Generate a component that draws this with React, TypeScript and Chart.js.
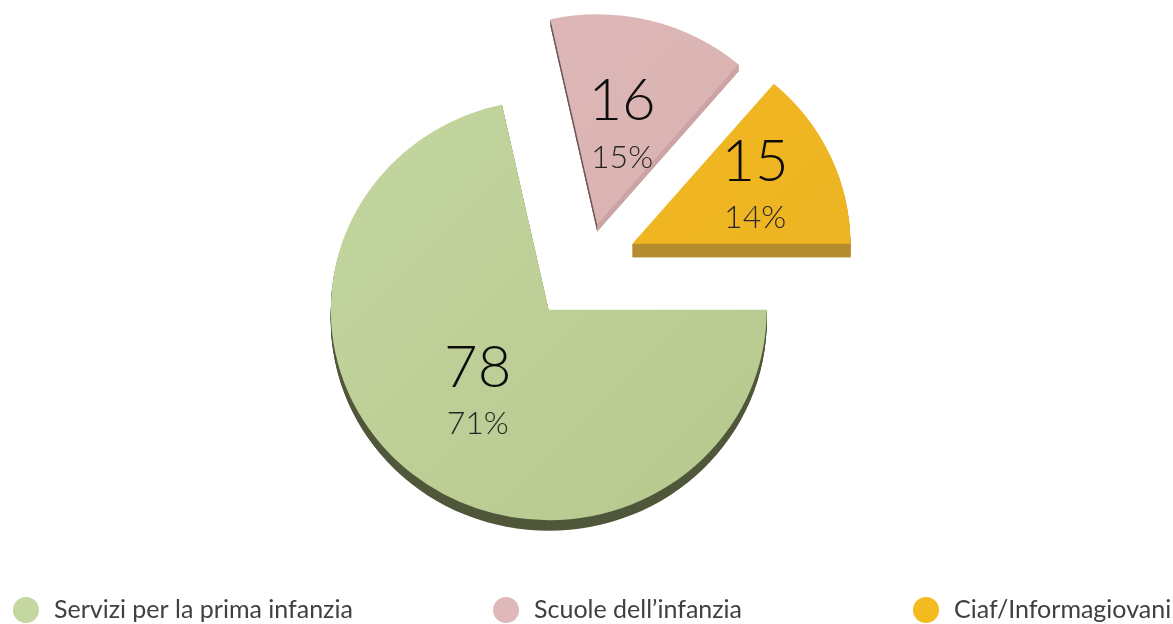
import React, { useEffect, useRef } from "react";
import { Chart, registerables } from "chart.js";

Chart.register(...registerables);

// ---- data ----
const categories = ["Servizi per la prima infanzia", "Scuole dell\u2019infanzia", "Ciaf/Informagiovani"];
const values = [78, 16, 15];
const percentLabels = ["71%", "15%", "14%"];

// ---- style ----
const faceLight = ["#c4d7a1", "#dfb9b9", "#f3bb1d"];
const faceDark = ["#b7c88d", "#d6adad", "#ecb225"];
const sideArc = ["#50573a", "#a88888", "#b89030"];
const sideStart = ["#50573a", "#6f5656", "#b38d2e"];
const sideEnd = ["#8a9568", "#cda4a4", "#b48d2f"];
const depth = [11, 7, 14];
const explode = [61, 42, 50];
const labelRadius = [0.52, 0.47, 0.62];
const legendX = [0.0217, 0.431, 0.789];
const SQUASH = 0.965;

const explodePlugin = {
  id: "explodeSlices",
  afterDatasetsUpdate(chart: any) {
    const meta = chart.getDatasetMeta(0);
    meta.data.forEach((arc: any, i: number) => {
      const mid = (arc.startAngle + arc.endAngle) / 2;
      arc.x += Math.cos(mid) * explode[i];
      arc.y += Math.sin(mid) * explode[i];
    });
  },
};

function centerY(chart: any) {
  const a = chart.chartArea;
  return (a.top + a.bottom) / 2;
}

const pie3dPlugin = {
  id: "pie3d",
  beforeDatasetsDraw(chart: any) {
    const ctx = chart.ctx;
    const y0 = centerY(chart);
    ctx.save();
    ctx.translate(0, y0);
    ctx.scale(1, SQUASH);
    ctx.translate(0, -y0);
    const meta = chart.getDatasetMeta(0);
    meta.data.forEach((arc: any, i: number) => {
      const { x, y, startAngle: a0, endAngle: a1, outerRadius: r } = arc;
      const d = depth[i];
      ctx.fillStyle = sideArc[i];
      for (let k = d; k >= 1; k--) {
        ctx.beginPath();
        ctx.moveTo(x, y + k);
        ctx.arc(x, y + k, r, a0, a1);
        ctx.closePath();
        ctx.fill();
      }
      const edge = (ang: number, n: number, color: string) => {
        if (Math.sin(n) <= 0.01) return;
        const px = x + Math.cos(ang) * r;
        const py = y + Math.sin(ang) * r;
        ctx.fillStyle = color;
        ctx.beginPath();
        ctx.moveTo(x, y);
        ctx.lineTo(px, py);
        ctx.lineTo(px, py + d);
        ctx.lineTo(x, y + d);
        ctx.closePath();
        ctx.fill();
      };
      edge(a0, a0 - Math.PI / 2, sideStart[i]);
      edge(a1, a1 + Math.PI / 2, sideEnd[i]);
    });
  },
  afterDatasetsDraw(chart: any) {
    const ctx = chart.ctx;
    ctx.restore();
    const y0 = centerY(chart);
    const meta = chart.getDatasetMeta(0);
    meta.data.forEach((arc: any, i: number) => {
      const mid = (arc.startAngle + arc.endAngle) / 2;
      const r = arc.outerRadius * labelRadius[i];
      const cx = arc.x + Math.cos(mid) * r;
      const cy = y0 + SQUASH * (arc.y + Math.sin(mid) * r - y0);
      ctx.save();
      ctx.textAlign = "center";
      ctx.textBaseline = "middle";
      ctx.fillStyle = "#0d0d0d";
      ctx.font = '300 58px "Lato", "Inter", sans-serif';
      ctx.fillText(String(values[i]), cx, cy - 27);
      ctx.fillStyle = "#262626";
      ctx.font = '300 32px "Lato", "Inter", sans-serif';
      ctx.fillText(percentLabels[i], cx, cy + 29);
      ctx.restore();
    });
  },
};

const legendPlugin = {
  id: "bottomLegend",
  afterDraw(chart: any) {
    const ctx = chart.ctx;
    const w = chart.width;
    const yc = chart.height - 14;
    categories.forEach((label, i) => {
      const cx = legendX[i] * w + 0.5;
      ctx.save();
      ctx.fillStyle = faceLight[i];
      ctx.beginPath();
      ctx.arc(cx, yc, 13, 0, Math.PI * 2);
      ctx.fill();
      ctx.fillStyle = "#404040";
      ctx.font = '25px "Lato", sans-serif';
      ctx.textAlign = "left";
      ctx.textBaseline = "middle";
      ctx.fillText(label, cx + 28, yc);
      ctx.restore();
    });
  },
};

export default function App() {
  const ref = useRef<HTMLCanvasElement | null>(null);

  useEffect(() => {
    document.body.style.margin = "0";
    if (!ref.current) return;
    const chart = new Chart(ref.current, {
      type: "pie",
      data: {
        labels: categories,
        datasets: [
          {
            data: values,
            borderWidth: 0,
            clip: false,
            backgroundColor: (c: any) => {
              const chart = c.chart;
              const area = chart.chartArea;
              const i = c.dataIndex;
              if (!area) return faceLight[i];
              const mx = (area.left + area.right) / 2;
              const my = (area.top + area.bottom) / 2;
              const g = chart.ctx.createLinearGradient(mx - 260, my - 200, mx + 200, my + 240);
              g.addColorStop(0, faceLight[i]);
              g.addColorStop(1, faceDark[i]);
              return g;
            },
          } as any,
        ],
      },
      options: {
        responsive: false,
        animation: false,
        events: [],
        rotation: 90,
        radius: 218,
        layout: { padding: { left: 1, right: 0, top: 0, bottom: 96 } },
        plugins: {
          legend: { display: false },
          tooltip: { enabled: false },
        },
      },
      plugins: [explodePlugin, pie3dPlugin, legendPlugin],
    });
    return () => chart.destroy();
  }, []);

  return (
    <div style={{ position: "fixed", left: 0, top: 0, width: 1173, height: 624, background: "#fff" }}>
      <canvas ref={ref} width={1173} height={624} style={{ display: "block" }} />
    </div>
  );
}
